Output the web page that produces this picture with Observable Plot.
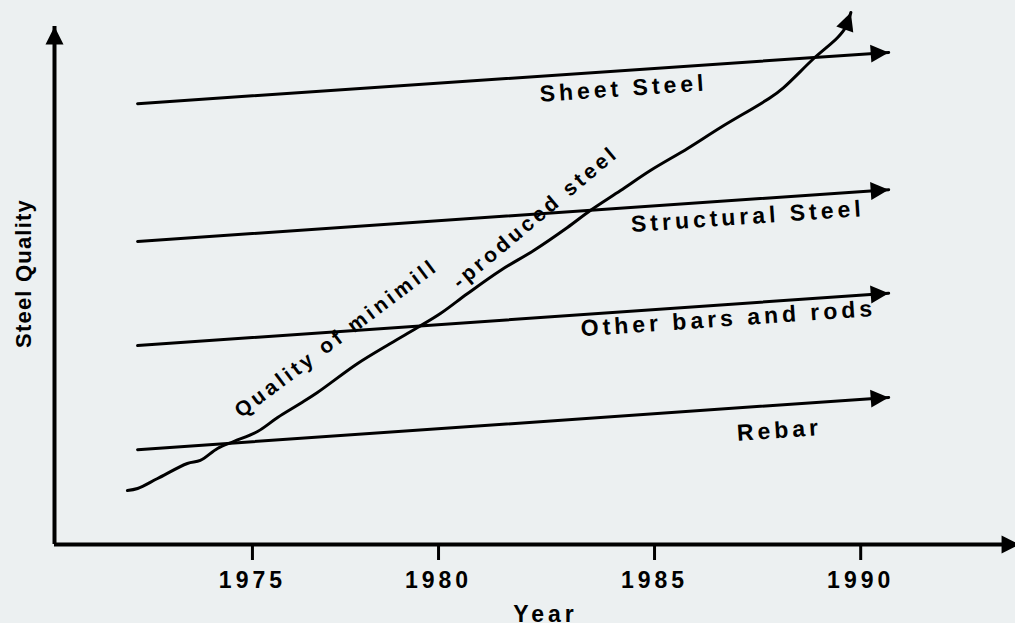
<!DOCTYPE html>
<html>
<head>
<meta charset="utf-8">
<script src="https://cdn.jsdelivr.net/npm/d3@7"></script>
<script src="https://cdn.jsdelivr.net/npm/@observablehq/plot@0.6"></script>
<style>
html, body { margin: 0; padding: 0; background: #ecf0f1; }
#chart svg text { letter-spacing: 4px; }
#chart svg text[transform*="rotate(-90)"] { letter-spacing: 1.2px; }
#chart svg text[transform*="rotate(-37)"], #chart svg text[transform*="rotate(-40)"] { letter-spacing: 3.5px; }
</style>
</head>
<body>
<div id="chart"></div>
<script>
// ---- data ----
// the time axis was hand drawn: its ticks are not evenly spaced
const xTickYears = [1975, 1980, 1985, 1990];
const xTickDrawn = [1974.98, 1979.71, 1985.20, 1990.44]; // where each tick sits on an even year axis
const axisStartYear = 1970;
const axisEndYear = 1994.13;
const xDomain = [1970, 1994.4];
const qualityMax = 100;

const steelTypes = ["Rebar", "Other bars and rods", "Structural Steel", "Sheet Steel"];
const lineStartYear = 1972.12;
const lineEndYear = 1990.77;
const qualityStart = [18.3, 38.4, 58.5, 85.1];
const qualityEnd = [28.4, 48.5, 68.5, 95.0];
const labelYear = [1988.08, 1986.84, 1987.31, 1984.33];
const labelQuality = [22.0, 43.6, 63.3, 88.0];

const minimillYear = [1971.86, 1972.12, 1972.63, 1973.39, 1973.72, 1974.16, 1974.57, 1975.19, 1975.73,
  1976.34, 1976.80, 1977.88, 1978.76, 1979.49, 1980.09, 1980.72, 1981.48, 1982.25, 1983.03, 1983.56,
  1984.26, 1984.95, 1985.85, 1986.65, 1987.86, 1988.18, 1988.91, 1989.49, 1989.68, 1989.81];
const minimillQuality = [10.42, 10.81, 12.74, 15.64, 16.22, 18.53, 19.88, 21.81, 24.52,
  27.22, 29.34, 34.94, 38.80, 41.89, 44.59, 48.46, 52.90, 56.76, 61.20, 64.48,
  68.34, 72.20, 76.45, 80.50, 86.29, 88.22, 93.82, 97.88, 99.81, 102.70];

const curveLabels = ["Quality of minimill", "-produced steel"];
const curveLabelYear = [1977.31, 1982.29];
const curveLabelQuality = [39.8, 63.2];
const curveLabelAngle = [-37, -40];

// ---- calibration of the hand-drawn time axis ----
const calib = d3.scaleLinear([xDomain[0], ...xTickYears, 1994], [xDomain[0], ...xTickDrawn, xDomain[1]]);

// ---- layout ----
const W = 1015, H = 623;
const mL = 54, mR = 1, mT = 26, mB = 79;
const xs = d3.scaleLinear(xDomain, [mL, W - mR]);
const ys = d3.scaleLinear([0, qualityMax], [H - mB, mT]);
const angle = (x0, y0, x1, y1) => Math.atan2(ys(y1) - ys(y0), xs(calib(x1)) - xs(calib(x0))) * 180 / Math.PI;

// filled arrowhead symbol, tip at origin pointing up
const arrowHead = {
  draw(ctx, size) {
    const r = Math.sqrt(size / Math.PI);
    const L = 1.8 * r, hw = 0.9 * r;
    ctx.moveTo(0, 0);
    ctx.lineTo(-hw, L);
    ctx.lineTo(hw, L);
    ctx.closePath();
  }
};

const lines = steelTypes.flatMap((t, i) => [
  {type: t, year: calib(lineStartYear), quality: qualityStart[i]},
  {type: t, year: calib(lineEndYear), quality: qualityEnd[i]}
]);
const lineArrows = steelTypes.map((t, i) => ({
  year: calib(lineEndYear), quality: qualityEnd[i],
  rotate: angle(lineStartYear, qualityStart[i], lineEndYear, qualityEnd[i]) + 90
}));
const lineLabels = steelTypes.map((t, i) => ({
  text: t, year: calib(labelYear[i]), quality: labelQuality[i],
  rotate: angle(lineStartYear, qualityStart[i], lineEndYear, qualityEnd[i])
}));
const curve = minimillYear.map((y, i) => ({year: calib(y), quality: minimillQuality[i]}));
const n = minimillYear.length;
const curveArrow = [{
  year: calib(minimillYear[n - 1]), quality: minimillQuality[n - 1],
  rotate: angle(minimillYear[n - 2], minimillQuality[n - 2], minimillYear[n - 1], minimillQuality[n - 1]) + 90
}];
const curveText = curveLabels.map((t, i) => ({text: t, year: calib(curveLabelYear[i]), quality: curveLabelQuality[i], rotate: curveLabelAngle[i]}));
const axisArrows = [
  {year: calib(axisEndYear), quality: 0, rotate: 90},
  {year: calib(axisStartYear), quality: qualityMax, rotate: 0}
];

const chart = Plot.plot({
  width: W, height: H,
  marginLeft: mL, marginRight: mR, marginTop: mT, marginBottom: mB,
  x: {domain: xDomain},
  y: {domain: [0, qualityMax], axis: null},
  style: {background: "#ecf0f1", color: "black", fontFamily: "'Liberation Sans', Arial, sans-serif", overflow: "visible"},
  marks: [
    Plot.axisX({ticks: xTickYears.map(calib), tickFormat: (d, i) => String(xTickYears[i]), tickSize: 16, tickPadding: 11,
      strokeWidth: 3, fontSize: 23, fontWeight: "bold", label: null, dx: 2}),
    Plot.ruleY([0], {x1: calib(axisStartYear), x2: calib(axisEndYear), strokeWidth: 4}),
    Plot.ruleX([calib(axisStartYear)], {y1: 0, y2: qualityMax, strokeWidth: 4}),
    Plot.dot(axisArrows, {x: "year", y: "quality", rotate: "rotate", symbol: arrowHead, r: 10, fill: "black", stroke: "none"}),
    Plot.line(lines, {x: "year", y: "quality", z: "type", stroke: "black", strokeWidth: 3}),
    Plot.dot(lineArrows, {x: "year", y: "quality", rotate: "rotate", symbol: arrowHead, r: 10, fill: "black", stroke: "none"}),
    Plot.text(lineLabels, {x: "year", y: "quality", text: "text", rotate: "rotate", fontSize: 23, fontWeight: "bold", fill: "black"}),
    Plot.line(curve, {x: "year", y: "quality", curve: "catmull-rom", stroke: "black", strokeWidth: 3}),
    Plot.dot(curveArrow, {x: "year", y: "quality", rotate: "rotate", symbol: arrowHead, r: 10, fill: "black", stroke: "none"}),
    Plot.text(curveText, {x: "year", y: "quality", text: "text", rotate: "rotate", fontSize: 21, fontWeight: "bold", fill: "black"}),
    Plot.text(["Year"], {frameAnchor: "bottom", textAnchor: "middle", lineAnchor: "top", dy: 61, dx: 11, fontSize: 23, fontWeight: "bold", fill: "black"}),
    Plot.text(["Steel Quality"], {frameAnchor: "left", textAnchor: "middle", rotate: -90, dx: -31, dy: -12, fontSize: 22, fontWeight: "bold", fill: "black"})
  ]
});
document.getElementById("chart").append(chart);
</script>
</body>
</html>
